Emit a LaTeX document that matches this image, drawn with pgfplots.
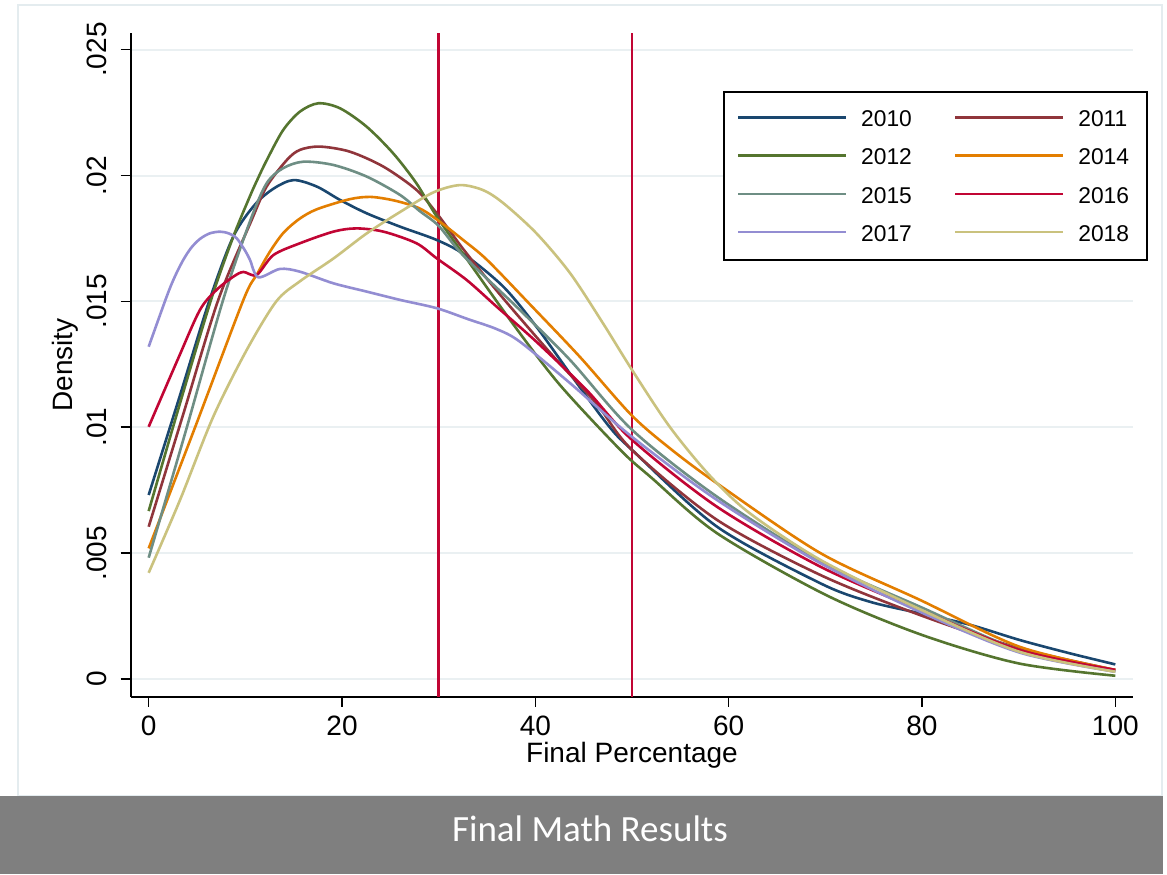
\documentclass[border=0pt]{standalone}
\usepackage{fontspec}
\setmainfont{Liberation Sans}
\newfontfamily\calibri{Carlito}
\usepackage{pgfplots}
\pgfplotsset{compat=1.18}

\definecolor{c2010}{HTML}{1A476F}
\definecolor{c2011}{HTML}{90353B}
\definecolor{c2012}{HTML}{55752F}
\definecolor{c2014}{HTML}{E37E00}
\definecolor{c2015}{HTML}{6E8E84}
\definecolor{c2016}{HTML}{C10534}
\definecolor{c2017}{HTML}{938DD2}
\definecolor{c2018}{HTML}{CAC27E}
\definecolor{gridc}{HTML}{EAF0F2}
\definecolor{framec}{HTML}{E4ECEF}
\definecolor{bandgray}{HTML}{7F7F7F}

\begin{document}
\begin{tikzpicture}
% page, frame and caption band (pixel units)
\begin{scope}[x=0.5pt,y=-0.5pt]
  \fill[white] (0,0) rectangle (1167,874);
  \draw[framec, line width=1pt] (18,5) rectangle (1162,796);
  \fill[bandgray] (0,796) rectangle (1163,874);
  \node[anchor=base, text=white, inner sep=0pt,
        font=\calibri\fontsize{18.5}{22}\selectfont] at (590,841) {Final Math Results};
\end{scope}

\begin{axis}[
    at={(65.35pt,-348.35pt)}, anchor=south west,
    scale only axis, width=501.3pt, height=331.7pt,
    xmin=-1.86, xmax=101.86, ymin=-0.000703, ymax=0.02565,
    axis x line*=bottom, axis y line*=left,
    axis line style={-, line width=0.8pt, black},
    tick align=outside, major tick length=5pt,
    tick style={line width=0.8pt, black},
    xtick={0,20,40,60,80,100},
    ytick={0,0.005,0.01,0.015,0.02,0.025},
    yticklabels={0,.005,.01,.015,.02,.025},
    scaled y ticks=false,
    ymajorgrids, major grid style={gridc, line width=1pt},
    /pgf/number format/assume math mode=true,
    tick label style={font=\fontsize{14}{16}\selectfont},
    xticklabel style={anchor=north, inner sep=0pt},
    xticklabel shift=4.65pt,
    yticklabel style={rotate=90, anchor=base, inner sep=0pt},
    yticklabel shift=6.85pt,
    xlabel={Final Percentage}, ylabel={Density},
    label style={font=\fontsize{14}{16}\selectfont},
    xlabel style={at={(axis description cs:0.5,-0.0999)}, anchor=base},
    ylabel style={at={(axis description cs:-0.0585,0.5)}, anchor=base},
    legend columns=2,
    legend cell align=left,
    legend image code/.code={\draw[#1, line width=1.4pt] (0pt,0.5pt) -- (54pt,0.5pt);},
    legend style={
        at={(axis description cs:0.591,0.913)}, anchor=north west,
        draw=black, line width=0.8pt, fill=white,
        inner xsep=6.35pt, inner ysep=9.35pt,
        font=\fontsize{11.4}{13}\selectfont,
        row sep=10.9pt,
        nodes={inner sep=0pt, text height=8.16pt, text depth=0pt, text width=28pt},
        /tikz/every odd column/.append style={column sep=6.8pt},
        /tikz/every even column/.append style={column sep=18.4pt},
    },
    every axis plot/.append style={line width=1.3pt, smooth, tension=0.5},
]

% cut-off lines at 30 and 50
\addplot[c2016, line width=1.2pt, forget plot] coordinates {(30,-0.000703) (30,0.02565)};
\addplot[c2016, line width=1.2pt, forget plot] coordinates {(50,-0.000703) (50,0.02565)};

\addplot[c2010] coordinates {
(0,.00731) (3.2,.01122) (6.3,.01506) (8.75,.01757) (11,.01885) (13,.0195)
(15,.01982) (17.4,.01956) (19.8,.01903) (22.55,.0185) (26,.01797) (29.8,.01744)
(32.7,.01685) (36.7,.01558) (40.1,.014) (44.3,.01175) (47.7,.0100) (50,.0091)
(58.8,.00605) (69.5,.0038) (74.6,.00307) (79.8,.00261) (85,.00215) (90.1,.00155)
(95.3,.00102) (100,.00058)};
\addlegendentry{2010}

\addplot[c2011] coordinates {
(0,.00605) (3.6,.01055) (7.2,.01506) (10.65,.01823) (12.2,.01956) (14.3,.02062)
(15.65,.02102) (17.7,.02115) (20.8,.02095) (24.3,.02035) (27.7,.01943) (29.8,.0185)
(32.7,.017) (36.5,.0152) (41.9,.0128) (46.3,.01095) (50,.0091) (58.8,.00632)
(69.5,.00413) (79.8,.00254) (90.1,.00122) (100,.00036)};
\addlegendentry{2011}

\addplot[c2012] coordinates {
(0,.00667) (3.2,.0109) (6.45,.01506) (8.75,.01757) (10.5,.0192) (11.2,.0198)
(12.2,.0206) (13.9,.0218) (15.65,.02254) (17.55,.02287) (19.8,.02267) (22.55,.02194)
(25.3,.02088) (27.7,.01969) (29.8,.01837) (32.6,.01685) (37.7,.0141) (42.5,.0117)
(48.8,.0091) (52,.0080) (58.8,.00579) (70,.00335) (80,.00175) (90,.00062) (100,.00013)};
\addlegendentry{2012}

\addplot[c2014] coordinates {
(0,.00519) (4.9,.0101) (9.8,.01506) (11.17,.01605) (12.5,.01695) (13.93,.01772)
(15.6,.01828) (17.4,.01866) (20.8,.01906) (23,.01915) (25.5,.019) (28,.0187)
(30,.0182) (32.5,.01745) (35,.01665) (39.4,.0149) (44.6,.0128) (49.9,.0105)
(53.9,.00917) (58.8,.00777) (69.5,.005) (79.8,.00314) (90.1,.00128) (100,.00036)};
\addlegendentry{2014}

\addplot[c2015] coordinates {
(0,.00482) (3.8,.0098) (7.7,.01506) (10.5,.0182) (12.2,.01969) (13.9,.02029)
(16,.02055) (19.1,.02042) (22.55,.01996) (26,.01923) (28,.0186) (30,.018)
(32.6,.0168) (38.4,.01466) (43.6,.01267) (50,.0099) (58.8,.00724) (69.5,.00466)
(79.8,.00287) (90.1,.00115) (100,.00029)};
\addlegendentry{2015}

\addplot[c2016] coordinates {
(0,.01002) (3.06,.01274) (5.3,.01466) (7,.01545) (8.75,.01598) (9.8,.01617)
(11.17,.01605) (12.9,.01684) (15.65,.01731) (19.1,.01777) (21.5,.0179) (24.3,.01777)
(27.7,.01731) (29.8,.01671) (32.9,.01585) (36,.01479) (40.1,.0134) (45.3,.01148)
(50,.0095) (58.8,.00684) (69.5,.00446) (79.8,.00274) (90.1,.00115) (100,.00036)};
\addlegendentry{2016}

\addplot[c2017] coordinates {
(0,.0132) (1.86,.01519) (2.7,.01598) (3.58,.01665) (4.4,.01713) (5.3,.01748)
(6.3,.0177) (7.38,.01777) (8.3,.0177) (9.1,.01751) (10,.017) (10.48,.01665)
(11.34,.01596) (13.58,.01629) (15.65,.01618) (19.1,.01572)
(22.55,.01539) (26,.01506) (29.8,.01473) (33,.0143) (36,.0139) (38.4,.0134)
(43.6,.01175) (50,.00962) (58.8,.00711) (69.5,.0046) (79.8,.00267) (90.1,.00105)
(100,.00029)};
\addlegendentry{2017}

\addplot[c2018] coordinates {
(0,.00422) (3.24,.00711) (6.68,.01042) (10.14,.01307) (13.2,.015) (15.65,.0158)
(19.1,.0167) (22.55,.0177) (26,.01855) (29.45,.01933) (32.2,.01962) (34.6,.01942)
(36.7,.0189) (40.1,.01771) (43.6,.01612) (47,.01413) (50,.01228) (53.9,.01002)
(58,.0081) (62.2,.00658) (69.5,.00473) (79.8,.00277) (90.1,.00108) (100,.00029)};
\addlegendentry{2018}

\end{axis}
\end{tikzpicture}
\end{document}
